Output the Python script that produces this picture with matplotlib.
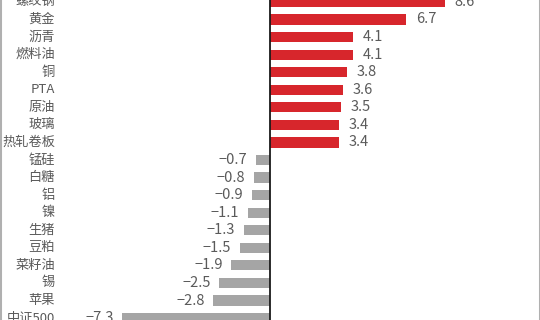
import matplotlib
matplotlib.use("Agg")
import matplotlib.pyplot as plt
import matplotlib.transforms as mtransforms

plt.rcParams['font.family'] = ['Noto Sans CJK SC', 'DejaVu Sans']

categories = ['螺纹钢', '黄金', '沥青', '燃料油', '铜', 'PTA', '原油', '玻璃', '热轧卷板',
              '锰硅', '白糖', '铝', '镍', '生猪', '豆粕', '菜籽油', '锡', '苹果', '中证500']
values = [8.6, 6.7, 4.1, 4.1, 3.8, 3.6, 3.5, 3.4, 3.4,
          -0.7, -0.8, -0.9, -1.1, -1.3, -1.5, -1.9, -2.5, -2.8, -7.3]

red = '#d7262c'
grey = '#a5a5a5'
txt = '#5a5a5a'

fig = plt.figure(figsize=(5.4, 3.2), dpi=100)
ax = fig.add_axes([0, 0, 1, 1])

ypos = list(range(len(categories)))
colors = [red if v > 0 else grey for v in values]
ax.barh(ypos, values, height=0.58, color=colors)

ax.set_xlim(-13.3, 13.3)
ax.set_ylim(18.11, -0.11)
ax.axvline(0, color='#1a1a1a', lw=1.3)

for side in ['top', 'bottom']:
    ax.spines[side].set_visible(False)
for side in ['left', 'right']:
    ax.spines[side].set_color('#b0b0b0')
    ax.spines[side].set_linewidth(2.2)
ax.set_xticks([])
ax.set_yticks([])

# category labels
trans = mtransforms.blended_transform_factory(ax.transAxes, ax.transData)
for y, name in zip(ypos, categories):
    ax.text(0.102, y, name, transform=trans, ha='right', va='center',
            fontsize=9.5, color=txt)

# value labels
for y, v in zip(ypos, values):
    s = f'{v:.1f}'.replace('-', '\u2212')
    if v > 0:
        ax.annotate(s, (v, y), xytext=(7, 0), textcoords='offset points',
                    ha='left', va='center', fontsize=10.5, color=txt)
    else:
        ax.annotate(s, (v, y), xytext=(-6, 0), textcoords='offset points',
                    ha='right', va='center', fontsize=10.5, color=txt)

fig.savefig('out.png', dpi=100)
